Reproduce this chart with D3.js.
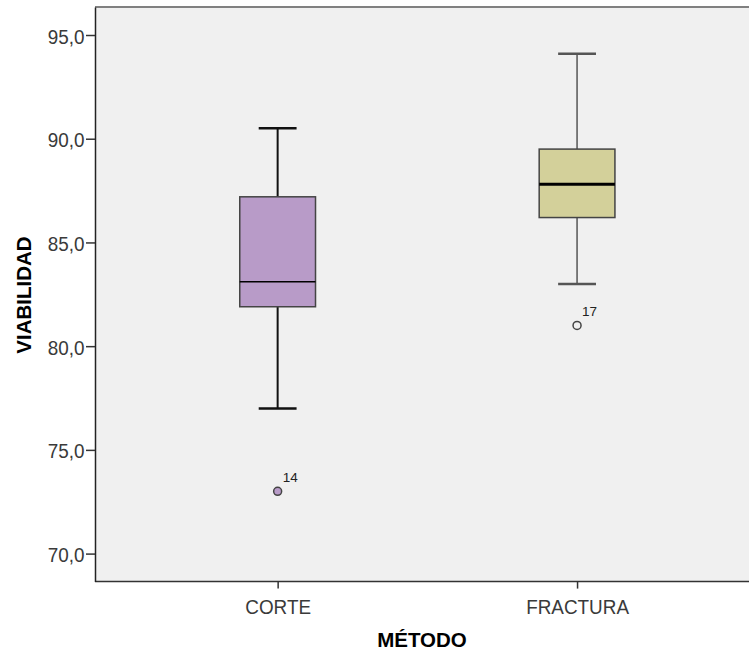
<!DOCTYPE html>
<html>
<head>
<meta charset="utf-8">
<script src="https://cdn.jsdelivr.net/npm/d3@7"></script>
<style>
  html, body { margin: 0; padding: 0; background: #ffffff; }
  svg { display: block; }
</style>
</head>
<body>
<svg id="chart" width="749" height="657"></svg>
<script>
// ---- Data ----
const categories   = ["CORTE", "FRACTURA"];
const whiskerLow   = [77.0, 83.0];
const q1           = [81.9, 86.2];
const median       = [83.1, 87.8];
const q3           = [87.2, 89.5];
const whiskerHigh  = [90.5, 94.1];
const outlierCats   = ["CORTE", "FRACTURA"];
const outlierValues = [73.0, 81.0];
const outlierLabels = ["14", "17"];
const yTicks = [70, 75, 80, 85, 90, 95];
const yTitle = "VIABILIDAD";
const xTitle = "MÉTODO";

// ---- Styles ----
const boxFill = ["#b89bc8", "#d3d09a"];
const outlierFill = ["#b89bc8", "#f0f0f0"];
const whiskerColor = ["#111111", "#555555"];
const whiskerWidth = [2, 1.5];
const medianWidth = [1.5, 3];

const svg = d3.select("#chart");
const pL = 95, pT = 7, pB = 581.6, pR = 759.7;

const x = d3.scalePoint().domain(categories).range([pL, pR]).padding(0.61);
const y = d3.scaleLinear().domain([68.65, 96.35]).range([pB, pT]);

const font = "'Liberation Sans', Arial, sans-serif";
const tickFont = 21, squeeze = 0.9;

// plot background
svg.append("rect")
  .attr("x", pL).attr("y", pT)
  .attr("width", 760 - pL).attr("height", pB - pT)
  .attr("fill", "#f0f0f0");

// borders
svg.append("line").attr("x1", pL).attr("x2", 760).attr("y1", pT).attr("y2", pT)
  .attr("stroke", "#808080").attr("stroke-width", 2);
svg.append("line").attr("x1", pL).attr("x2", 760).attr("y1", pB).attr("y2", pB)
  .attr("stroke", "#333333").attr("stroke-width", 1.5);

// y axis
const yAxis = d3.axisLeft(y).tickValues(yTicks).tickSize(9).tickSizeOuter(0)
  .tickFormat(d => d3.format(".1f")(d).replace(".", ","));
const gy = svg.append("g").attr("transform", `translate(${pL},0)`).call(yAxis);
gy.select(".domain").attr("stroke", "#222").attr("stroke-width", 1.5);
gy.selectAll(".tick line").attr("stroke", "#333").attr("stroke-width", 1.5);
gy.selectAll(".tick text")
  .attr("font-family", font).attr("font-size", tickFont).attr("fill", "#3a3a3a")
  .attr("x", -10.5 / squeeze).attr("dy", 0).attr("y", 8)
  .attr("transform", `scale(${squeeze},1)`);

// x axis
const xAxis = d3.axisBottom(x).tickSize(7).tickSizeOuter(0);
const gx = svg.append("g").attr("transform", `translate(0,${pB})`).call(xAxis);
gx.select(".domain").remove();
gx.selectAll(".tick line").attr("stroke", "#333").attr("stroke-width", 1.5);
gx.selectAll(".tick text")
  .attr("font-family", font).attr("font-size", tickFont).attr("fill", "#3a3a3a")
  .attr("y", 0).attr("dy", 0).attr("transform", `translate(0,32.5) scale(${squeeze},1)`);

// titles
svg.append("text")
  .attr("x", 422).attr("y", 647)
  .attr("text-anchor", "middle")
  .attr("font-family", font).attr("font-weight", "bold").attr("font-size", 20.5)
  .attr("fill", "#000").text(xTitle);
svg.append("text")
  .attr("transform", "translate(31,295) rotate(-90)")
  .attr("text-anchor", "middle")
  .attr("font-family", font).attr("font-weight", "bold").attr("font-size", 20.5)
  .attr("fill", "#000").text(yTitle);

// boxes
const boxW = x.step() * 0.253;
const capW = boxW / 2;
categories.forEach((c, i) => {
  const cx = x(c);
  const g = svg.append("g");
  g.append("line").attr("x1", cx).attr("x2", cx)
    .attr("y1", y(whiskerHigh[i])).attr("y2", y(q3[i]))
    .attr("stroke", whiskerColor[i]).attr("stroke-width", whiskerWidth[i]);
  g.append("line").attr("x1", cx).attr("x2", cx)
    .attr("y1", y(q1[i])).attr("y2", y(whiskerLow[i]))
    .attr("stroke", whiskerColor[i]).attr("stroke-width", whiskerWidth[i]);
  [whiskerHigh[i], whiskerLow[i]].forEach(v => {
    g.append("line").attr("x1", cx - capW / 2).attr("x2", cx + capW / 2)
      .attr("y1", y(v)).attr("y2", y(v))
      .attr("stroke", whiskerColor[i]).attr("stroke-width", 2.5);
  });
  g.append("rect")
    .attr("x", cx - boxW / 2).attr("y", y(q3[i]))
    .attr("width", boxW).attr("height", y(q1[i]) - y(q3[i]))
    .attr("fill", boxFill[i]).attr("stroke", "#444").attr("stroke-width", 1.5);
  g.append("line").attr("x1", cx - boxW / 2).attr("x2", cx + boxW / 2)
    .attr("y1", y(median[i])).attr("y2", y(median[i]))
    .attr("stroke", "#000").attr("stroke-width", medianWidth[i]);
});

// outliers
outlierValues.forEach((v, i) => {
  const ci = categories.indexOf(outlierCats[i]);
  const cx = x(outlierCats[i]);
  svg.append("circle")
    .attr("cx", cx).attr("cy", y(v)).attr("r", 4)
    .attr("fill", outlierFill[ci]).attr("stroke", "#444").attr("stroke-width", 1.5);
  svg.append("text")
    .attr("x", cx + 5).attr("y", y(v) - 9.5)
    .attr("font-family", font).attr("font-size", 13.5).attr("fill", "#222")
    .text(outlierLabels[i]);
});
</script>
</body>
</html>
